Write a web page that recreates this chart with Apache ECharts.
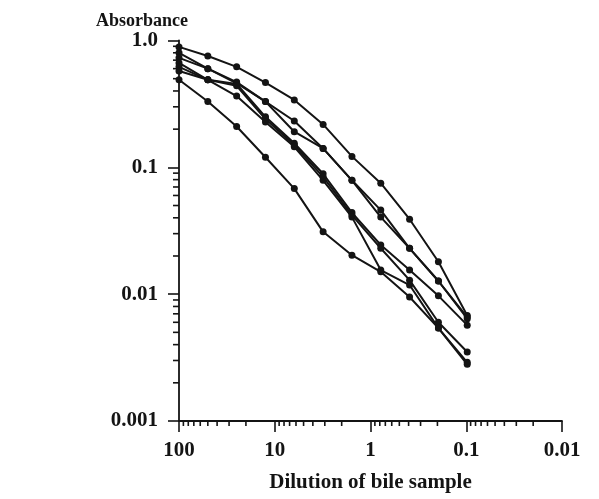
<!DOCTYPE html>
<html>
<head>
<meta charset="utf-8">
<script src="https://cdn.jsdelivr.net/npm/echarts@6/dist/echarts.min.js"></script>
<style>
  html, body { margin: 0; padding: 0; background: #fff; }
  #chart { width: 599px; height: 499px; }
</style>
</head>
<body>
<div id="chart"></div>
<script>
// twofold dilutions of the bile sample
const dilutions = [100, 50, 25, 12.5, 6.25, 3.125, 1.5625, 0.78125, 0.390625, 0.1953125, 0.09765625];

// absorbance
const sampleA = [0.89, 0.755, 0.62, 0.466, 0.34, 0.218, 0.122, 0.075, 0.039, 0.018, 0.0068];
const sampleB = [0.80, 0.60, 0.47, 0.33, 0.232, 0.141, 0.079, 0.046, 0.023, 0.0127, 0.0066];
const sampleC = [0.73, 0.60, 0.46, 0.33, 0.191, 0.141, 0.079, 0.0405, 0.023, 0.0127, 0.0064];
const sampleD = [0.665, 0.49, 0.455, 0.25, 0.155, 0.089, 0.044, 0.0244, 0.0155, 0.0097, 0.0057];
const sampleE = [0.62, 0.49, 0.44, 0.24, 0.15, 0.084, 0.042, 0.023, 0.0129, 0.006, 0.0035];
const sampleF = [0.575, 0.49, 0.365, 0.228, 0.145, 0.079, 0.0405, 0.0155, 0.0118, 0.0054, 0.0029];
const sampleG = [0.49, 0.33, 0.21, 0.12, 0.068, 0.031, 0.0203, 0.015, 0.0095, 0.0054, 0.0028];

// tick labels
const xTickValues = [100, 10, 1, 0.1, 0.01];
const xTickLabels = ['100', '10', '1', '0.1', '0.01'];
const yTickValues = [1, 0.1, 0.01, 0.001];
const yTickLabels = ['1.0', '0.1', '0.01', '0.001'];

// minor ticks: 2..9 inside each decade
const minorSteps = [2, 3, 4, 5, 6, 7, 8, 9];
const xDecades = [0.01, 0.1, 1, 10];
const yDecades = [0.001, 0.01, 0.1];

const FONT = '"Liberation Serif", "Times New Roman", serif';
const INK = '#141414';

const chart = echarts.init(document.getElementById('chart'), null, {renderer: 'canvas'});

function pairs(vals) {
    return vals.map((v, i) => [dilutions[i], v]);
}

function label(values, labels) {
    return function (v) {
        for (let i = 0; i < values.length; i++) {
            if (Math.abs(Math.log10(v) - Math.log10(values[i])) < 1e-6) return labels[i];
        }
        return '';
    };
}

let xMinor = [], yMinor = [];
xDecades.forEach(d => minorSteps.forEach(s => xMinor.push(d * s)));
yDecades.forEach(d => minorSteps.forEach(s => yMinor.push(d * s)));

const samples = [sampleA, sampleB, sampleC, sampleD, sampleE, sampleF, sampleG];

let series = samples.map((s) => ({
    type: 'line',
    data: pairs(s),
    symbol: 'circle',
    symbolSize: 7,
    itemStyle: {color: INK},
    lineStyle: {color: INK, width: 2},
    animation: false,
    z: 3
}));

// minor ticks on the y axis, drawn through the axis scale
series.push({
    type: 'custom',
    data: yMinor.map(v => [100, v]),
    renderItem: function (params, api) {
        const p = api.coord([api.value(0), api.value(1)]);
        return {
            type: 'line',
            shape: {x1: p[0] - 6, y1: p[1], x2: p[0], y2: p[1]},
            style: {stroke: INK, lineWidth: 1.6}
        };
    },
    animation: false,
    silent: true
});
// minor ticks on the x axis
series.push({
    type: 'custom',
    data: xMinor.map(v => [v, 0.001]),
    renderItem: function (params, api) {
        const p = api.coord([api.value(0), api.value(1)]);
        return {
            type: 'line',
            shape: {x1: p[0], y1: p[1], x2: p[0], y2: p[1] + 5},
            style: {stroke: INK, lineWidth: 1.6}
        };
    },
    animation: false,
    silent: true
});

chart.setOption({
    backgroundColor: '#fff',
    animation: false,
    title: {
        text: 'Absorbance',
        left: 96,
        top: 12,
        padding: 0,
        textStyle: {fontFamily: FONT, fontWeight: 'bold', fontSize: 18, color: INK}
    },
    graphic: [{
        type: 'text',
        x: 370.5,
        y: 483,
        style: {
            text: 'Dilution of bile sample',
            align: 'center',
            verticalAlign: 'middle',
            font: 'bold 21px ' + FONT,
            fill: INK
        }
    }],
    grid: {
        left: 179,
        right: 37,
        top: 40.5,
        bottom: 78,
        containLabel: false,
        outerBoundsMode: 'none'
    },
    xAxis: {
        type: 'log',
        logBase: 10,
        inverse: true,
        min: 0.01,
        max: 100,
        axisLine: {lineStyle: {color: INK, width: 1.8}},
        axisTick: {length: 11, lineStyle: {color: INK, width: 1.6}},
        axisLabel: {
            margin: 19,
            fontFamily: FONT, fontWeight: 'bold', fontSize: 21, color: INK,
            formatter: label(xTickValues, xTickLabels)
        },
        splitLine: {show: false}
    },
    yAxis: {
        type: 'log',
        logBase: 10,
        min: 0.001,
        max: 1,
        axisLine: {show: true, lineStyle: {color: INK, width: 1.8}},
        axisTick: {show: true, length: 11, lineStyle: {color: INK, width: 1.6}},
        axisLabel: {
            margin: 21,
            fontFamily: FONT, fontWeight: 'bold', fontSize: 21, color: INK,
            formatter: label(yTickValues, yTickLabels)
        },
        splitLine: {show: false}
    },
    series: series
});
</script>
</body>
</html>
